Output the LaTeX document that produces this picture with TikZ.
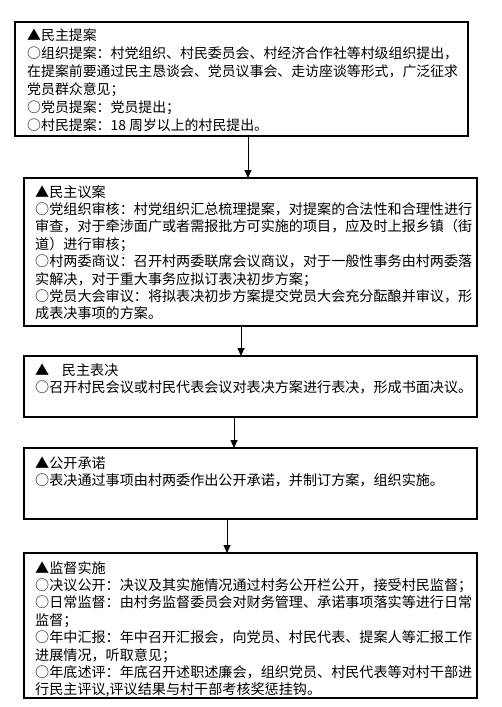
\documentclass[tikz,border=0pt]{standalone}
\usepackage{fontspec}
\setmainfont{Noto Sans CJK SC}
\usetikzlibrary{arrows.meta}
\begin{document}
\begin{tikzpicture}[x=1pt,y=-1pt,
  box/.style={draw,line width=1.2pt,anchor=north west,inner sep=0pt,outer sep=0pt},
  txt/.style={anchor=north west,inner sep=0pt,align=left,font=\fontsize{14.1pt}{17.4pt}\selectfont},
  txtsmall/.style={txt,font=\fontsize{13.9pt}{18pt}\selectfont},
  flow/.style={line width=0.9pt,-{Triangle[length=8pt,width=7pt]}}]
\useasboundingbox (0,0) rectangle (501,707);
% boxes
\node[box,minimum width=453pt,minimum height=114pt] (b1) at (15,22) {};
\node[box,minimum width=453pt,minimum height=148pt] (b2) at (24,178) {};
\node[box,minimum width=453pt,minimum height=61pt] (b3) at (24,356) {};
\node[box,minimum width=453pt,minimum height=71pt] (b4) at (24,448) {};
\node[box,minimum width=453pt,minimum height=145pt] (b5) at (24,553) {};
% texts
\node[txtsmall] (t1) at (27,29) {▲民主提案\\
○组织提案：村党组织、村民委员会、村经济合作社等村级组织提出，\\
在提案前要通过民主恳谈会、党员议事会、走访座谈等形式，广泛征求\\
党员群众意见；\\
○党员提案：党员提出；\\
○村民提案：18 周岁以上的村民提出。};
\node[txt] (t2) at (35,185) {▲民主议案\\
○党组织审核：村党组织汇总梳理提案，对提案的合法性和合理性进行\\
审查，对于牵涉面广或者需报批方可实施的项目，应及时上报乡镇（街\\
道）进行审核；\\
○村两委商议：召开村两委联席会议商议，对于一般性事务由村两委落\\
实解决，对于重大事务应拟订表决初步方案；\\
○党员大会审议：将拟表决初步方案提交党员大会充分酝酿并审议，形\\
成表决事项的方案。};
\node[txt] (t3) at (35,363) {▲\hspace{0.9em}民主表决\\
○召开村民会议或村民代表会议对表决方案进行表决，形成书面决议。};
\node[txt] (t4) at (35,456) {▲公开承诺\\
○表决通过事项由村两委作出公开承诺，并制订方案，组织实施。};
\node[txt] (t5) at (35,561) {▲监督实施\\
○决议公开：决议及其实施情况通过村务公开栏公开，接受村民监督；\\
○日常监督：由村务监督委员会对财务管理、承诺事项落实等进行日常\\
监督；\\
○年中汇报：年中召开汇报会，向党员、村民代表、提案人等汇报工作\\
进展情况，听取意见；\\
○年底述评：年底召开述职述廉会，组织党员、村民代表等对村干部进\\
行民主评议,评议结果与村干部考核奖惩挂钩。};
% arrows
\coordinate (a1) at (248,0);
\coordinate (a2) at (241,0);
\coordinate (a3) at (234,0);
\coordinate (a4) at (227,0);
\draw[flow] (b1.south -| a1) -- (b2.north -| a1);
\draw[flow] (b2.south -| a2) -- (b3.north -| a2);
\draw[flow] (b3.south -| a3) -- (b4.north -| a3);
\draw[flow] (b4.south -| a4) -- (b5.north -| a4);
\end{tikzpicture}
\end{document}
